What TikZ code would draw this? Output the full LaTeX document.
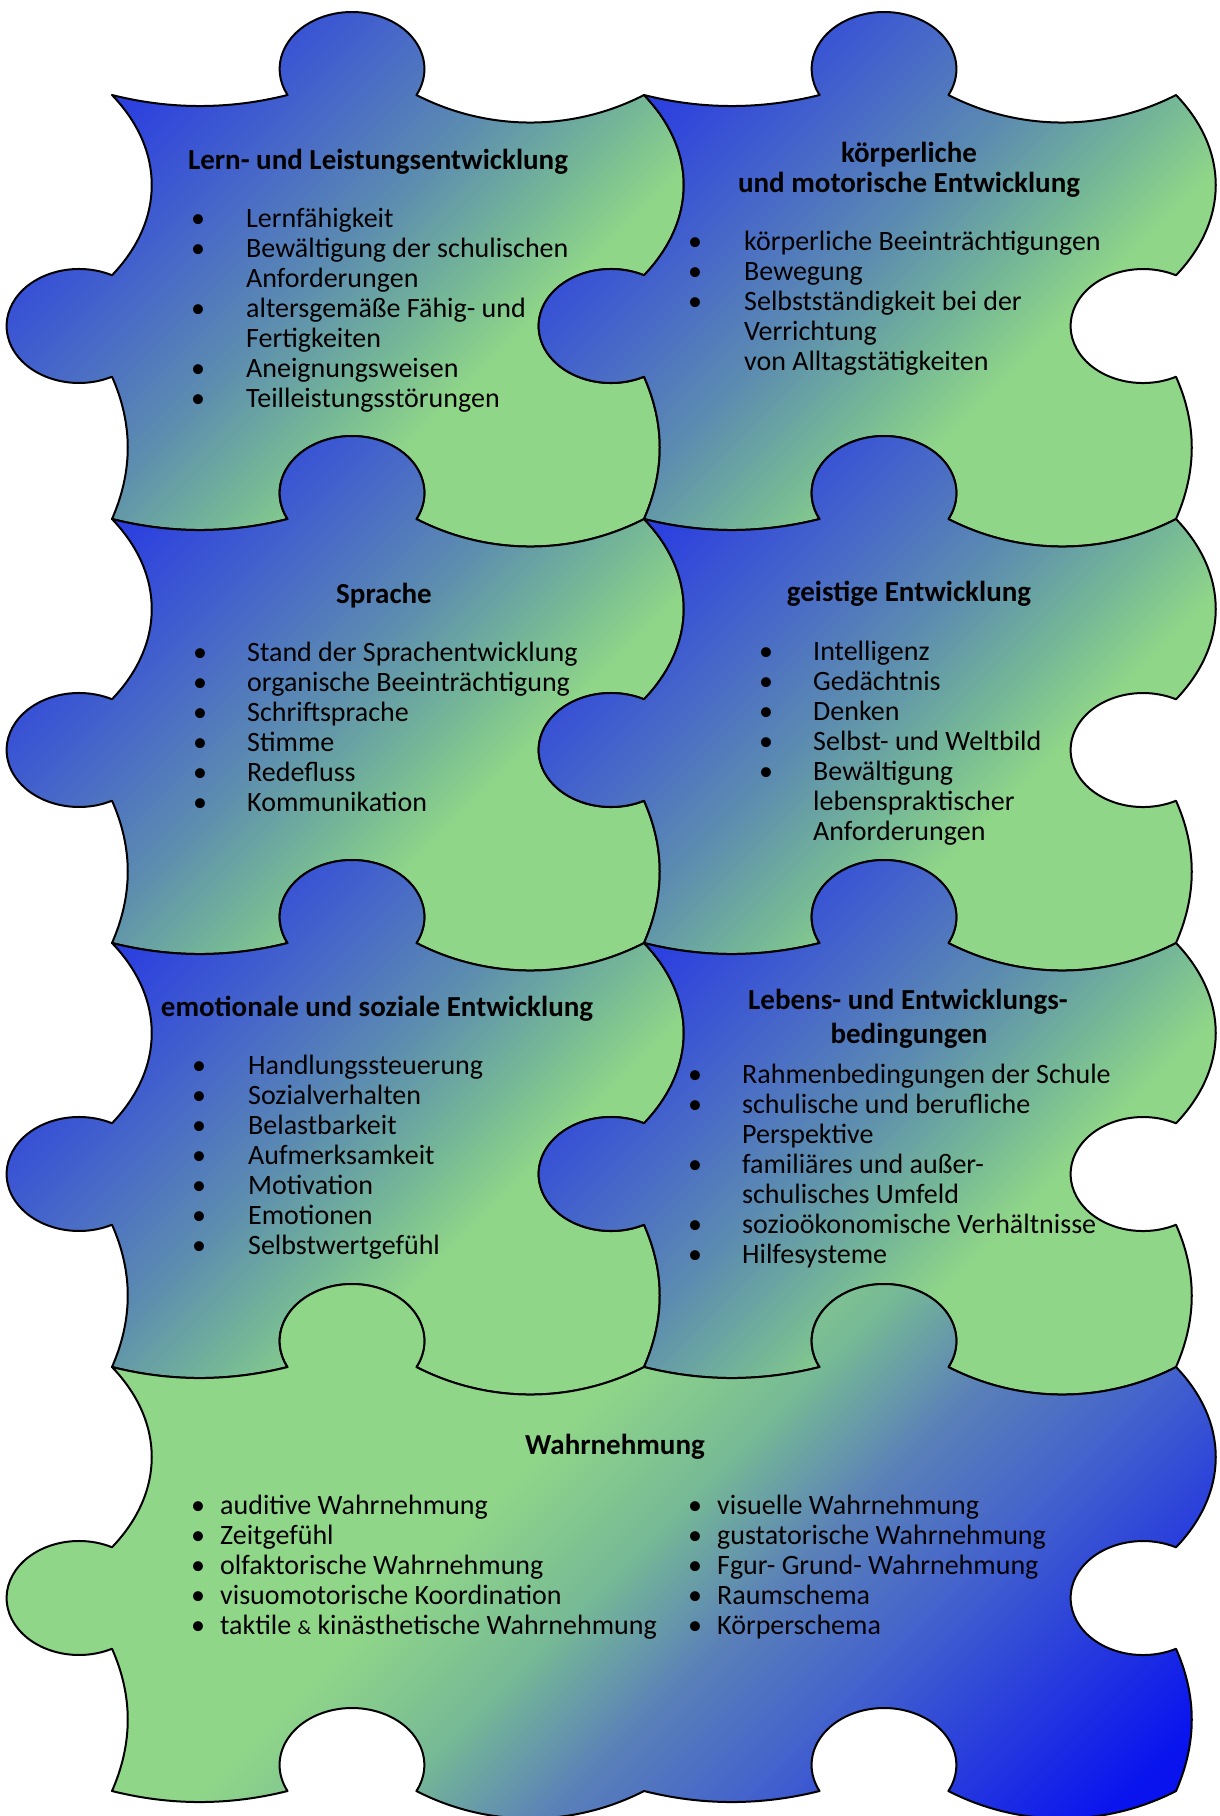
\documentclass[tikz,border=0pt]{standalone}
\usepackage{fontspec}
\setmainfont{Carlito}
\definecolor{pzgreen}{RGB}{144,214,136}
\definecolor{pzteal}{RGB}{118,185,150}
\definecolor{pzmid}{RGB}{92,140,176}
\definecolor{pzblue}{RGB}{72,105,200}
\definecolor{pzdeep}{RGB}{45,65,222}
\definecolor{pzdeeper}{RGB}{30,45,235}
\definecolor{pzbb}{RGB}{10,20,238}
\definecolor{pzbbb}{RGB}{0,0,245}
\definecolor{pzbmid}{RGB}{68,99,204}
\definecolor{pzbmidb}{RGB}{90,128,184}
\pgfdeclareverticalshading{pzA}{100bp}{color(0bp)=(pzgreen); color(37bp)=(pzgreen); color(43bp)=(pzteal); color(52bp)=(pzmid); color(61bp)=(pzblue); color(72bp)=(pzdeep); color(100bp)=(pzdeeper)}
\pgfdeclareverticalshading{pzB}{100bp}{color(0bp)=(pzbbb); color(20bp)=(pzbb); color(35bp)=(pzbmid); color(42bp)=(pzbmidb); color(49bp)=(pzteal); color(57bp)=(pzgreen); color(100bp)=(pzgreen)}
% edge templates (image coordinates, y downwards)
\newcommand\pzHf[2]{.. controls ({#1+58.5},{#2+14.7}) and ({#1+117},{#2+14.7}) .. ({#1+175.6},{#2}) arc[start angle=152.86,end angle=387.14,x radius=72.4,y radius=57] .. controls ({#1+375.8},{#2+36.7}) and ({#1+460.6},{#2+36.7}) .. ({#1+532},{#2})}
\newcommand\pzHr[2]{.. controls ({#1+460.6},{#2+36.7}) and ({#1+375.8},{#2+36.7}) .. ({#1+304.4},{#2}) arc[start angle=27.14,end angle=-207.14,x radius=72.4,y radius=57] .. controls ({#1+117},{#2+14.7}) and ({#1+58.5},{#2+14.7}) .. ({#1},{#2})}
\newcommand\pzVf[2]{.. controls ({#1+53},{#2+55}) and ({#1+53},{#2+125}) .. ({#1},{#2+180.3}) arc[start angle=-62.88,end angle=-297.12,x radius=72.4,y radius=57] .. controls ({#1+21},{#2+329}) and ({#1+21},{#2+376}) .. ({#1},{#2+424})}
\newcommand\pzVr[2]{.. controls ({#1+21},{#2+376}) and ({#1+21},{#2+329}) .. ({#1},{#2+281.7}) arc[start angle=62.88,end angle=297.12,x radius=72.4,y radius=57] .. controls ({#1+53},{#2+125}) and ({#1+53},{#2+55}) .. ({#1},{#2})}
\newcommand\pzpiece[2]{({#1},{#2}) \pzHf{#1}{#2} \pzVf{#1+532}{#2} \pzHr{#1}{#2+424} \pzVr{#1}{#2} -- cycle}
\newcommand\pzbul[5]{\node[pztxt,anchor=base] (#1b) at (#2,#4) {•}; \node[pztxt,anchor=base west] (#1) at (#3,#4) {#5};}
\newcommand\pzcont[4]{\node[pztxt,anchor=base west] (#1) at (#2,#3) {#4};}
\begin{document}
\begin{tikzpicture}[x=1pt,y=-1pt,line join=round,
  pztxt/.style={font=\fontsize{28}{30}\selectfont, inner sep=0pt},
  pzttl/.style={font=\fontsize{29}{30}\selectfont\bfseries, inner sep=0pt, anchor=base},
  pzpc/.style={shading=pzA, shading angle=45, draw=black, line width=2pt},
  pzwide/.style={shading=pzB, shading angle=45, draw=black, line width=2pt}]
\fill[white] (0,0) rectangle (1220,1816);
\useasboundingbox (0,0) rectangle (1220,1816);
% pieces
\shadedraw[pzpc] \pzpiece{112}{95};
\shadedraw[pzpc] \pzpiece{644}{95};
\shadedraw[pzpc] \pzpiece{112}{519};
\shadedraw[pzpc] \pzpiece{644}{519};
\shadedraw[pzpc] \pzpiece{112}{943};
\shadedraw[pzpc] \pzpiece{644}{943};
\shadedraw[pzwide] ({112},{1367}) \pzHf{112}{1367} \pzHf{644}{1367} \pzVf{1176}{1367} \pzHr{644}{1791} \pzHr{112}{1791} \pzVr{112}{1367} -- cycle;
% piece 1
\node[pzttl] (t1) at (378,169) {Lern- und Leistungsentwicklung};
\pzbul{a1}{198}{246}{227}{Lernfähigkeit}
\pzbul{a2}{198}{246}{257}{Bewältigung der schulischen}
\pzcont{a3}{246}{287}{Anforderungen}
\pzbul{a4}{198}{246}{317}{altersgemäße Fähig- und}
\pzcont{a5}{246}{347}{Fertigkeiten}
\pzbul{a6}{198}{246}{377}{Aneignungsweisen}
\pzbul{a7}{198}{246}{407}{Teilleistungsstörungen}
% piece 2
\node[pzttl] (t2a) at (909,162) {körperliche};
\node[pzttl] (t2b) at (909,192) {und motorische Entwicklung};
\pzbul{b1}{695}{744}{250}{körperliche Beeinträchtigungen}
\pzbul{b2}{695}{744}{280}{Bewegung}
\pzbul{b3}{695}{744}{310}{Selbstständigkeit bei der}
\pzcont{b4}{744}{340}{Verrichtung}
\pzcont{b5}{744}{370}{von Alltagstätigkeiten}
% piece 3
\node[pzttl] (t3) at (384,603) {Sprache};
\pzbul{c1}{200}{247}{661}{Stand der Sprachentwicklung}
\pzbul{c2}{200}{247}{691}{organische Beeinträchtigung}
\pzbul{c3}{200}{247}{721}{Schriftsprache}
\pzbul{c4}{200}{247}{751}{Stimme}
\pzbul{c5}{200}{247}{781}{Redefluss}
\pzbul{c6}{200}{247}{811}{Kommunikation}
% piece 4
\node[pzttl] (t4) at (909,601) {geistige Entwicklung};
\pzbul{d1}{766}{813}{660}{Intelligenz}
\pzbul{d2}{766}{813}{690}{Gedächtnis}
\pzbul{d3}{766}{813}{720}{Denken}
\pzbul{d4}{766}{813}{750}{Selbst- und Weltbild}
\pzbul{d5}{766}{813}{780}{Bewältigung}
\pzcont{d6}{813}{810}{lebenspraktischer}
\pzcont{d7}{813}{840}{Anforderungen}
% piece 5
\node[pzttl] (t5) at (377,1016) {emotionale und soziale Entwicklung};
\pzbul{e1}{199}{248}{1074}{Handlungssteuerung}
\pzbul{e2}{199}{248}{1104}{Sozialverhalten}
\pzbul{e3}{199}{248}{1134}{Belastbarkeit}
\pzbul{e4}{199}{248}{1164}{Aufmerksamkeit}
\pzbul{e5}{199}{248}{1194}{Motivation}
\pzbul{e6}{199}{248}{1224}{Emotionen}
\pzbul{e7}{199}{248}{1254}{Selbstwertgefühl}
% piece 6
\node[pzttl] (t6a) at (908,1009) {Lebens- und Entwicklungs-};
\node[pzttl] (t6b) at (909,1043) {bedingungen};
\pzbul{f1}{695}{742}{1083}{Rahmenbedingungen der Schule}
\pzbul{f2}{695}{742}{1113}{schulische und berufliche}
\pzcont{f3}{742}{1143}{Perspektive}
\pzbul{f4}{695}{742}{1173}{familiäres und außer-}
\pzcont{f5}{742}{1203}{schulisches Umfeld}
\pzbul{f6}{695}{742}{1233}{sozioökonomische Verhältnisse}
\pzbul{f7}{695}{742}{1263}{Hilfesysteme}
% wide piece
\node[pzttl] (t7) at (615,1454) {Wahrnehmung};
\pzbul{g1}{198}{220}{1514}{auditive Wahrnehmung}
\pzbul{g2}{198}{220}{1544}{Zeitgefühl}
\pzbul{g3}{198}{220}{1574}{olfaktorische Wahrnehmung}
\pzbul{g4}{198}{220}{1604}{visuomotorische Koordination}
\pzbul{g5}{198}{220}{1634}{taktile {\fontsize{20}{30}\selectfont\&} kinästhetische Wahrnehmung}
\pzbul{h1}{695}{717}{1514}{visuelle Wahrnehmung}
\pzbul{h2}{695}{717}{1544}{gustatorische Wahrnehmung}
\pzbul{h3}{695}{717}{1574}{Fgur- Grund- Wahrnehmung}
\pzbul{h4}{695}{717}{1604}{Raumschema}
\pzbul{h5}{695}{717}{1634}{Körperschema}
\end{tikzpicture}
\end{document}
